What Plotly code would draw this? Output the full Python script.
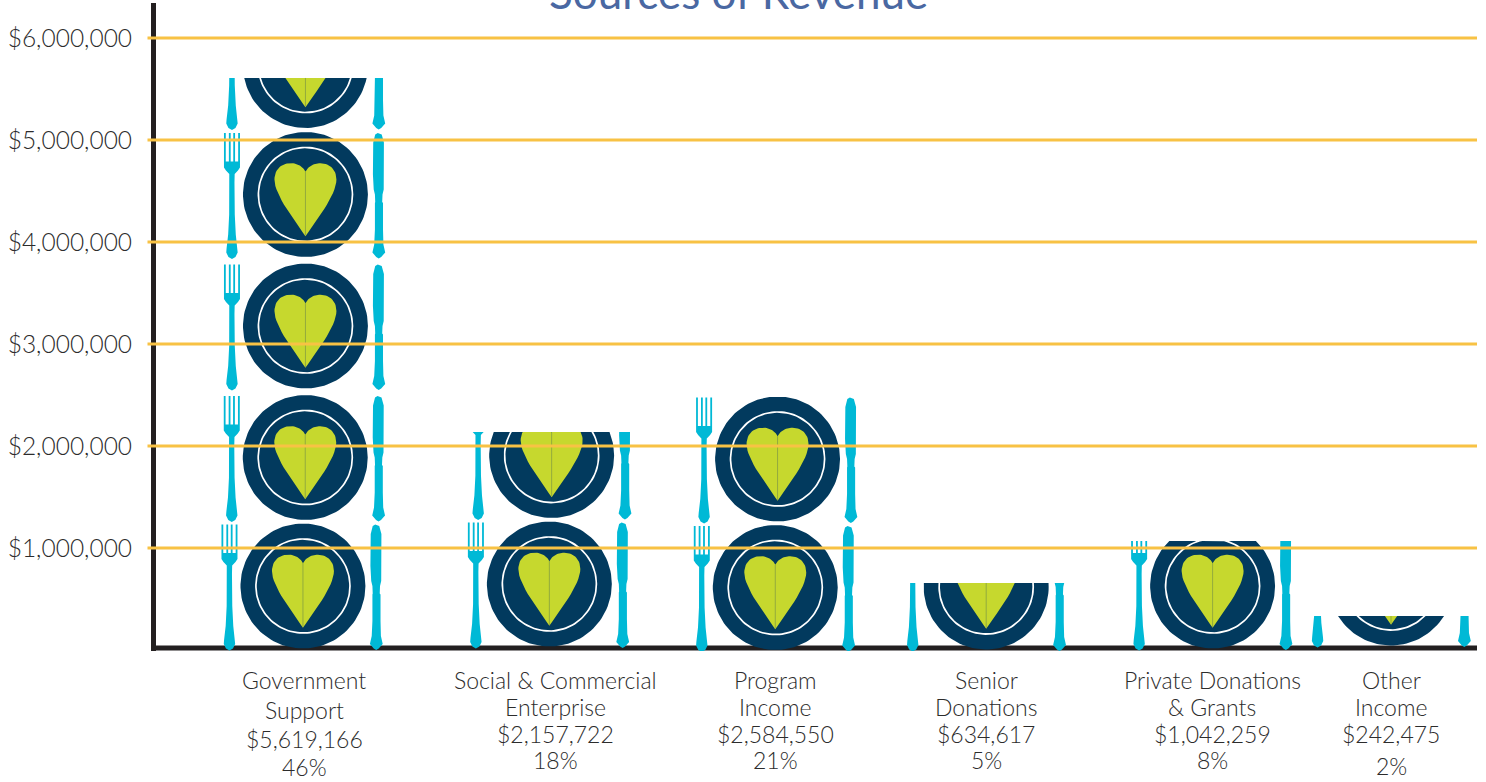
import numpy as np
import plotly.graph_objects as go

# ---------- data ----------
categories = [["Government", "Support"], ["Social & Commercial", "Enterprise"], ["Program", "Income"],
              ["Senior", "Donations"], ["Private Donations", "& Grants"], ["Other", "Income"]]
amounts = [5619166, 2157722, 2584550, 634617, 1042259, 242475]
percents = [46, 18, 21, 5, 8, 2]
# height of each pictogram column as read against the y axis
column_heights = [5608000, 2137000, 2480000, 657000, 1069000, 333000]
y_ticks = [1000000, 2000000, 3000000, 4000000, 5000000, 6000000]
y_tick_labels = ["$1,000,000", "$2,000,000", "$3,000,000", "$4,000,000", "$5,000,000", "$6,000,000"]
title_text = "Sources of Revenue"

# ---------- layout constants (x axis units equal pixels) ----------
W, H = 1486, 782
PLOT_L, PLOT_R, PLOT_T, PLOT_B = 155.5, 1477, 3, 651
PX_PER_UNIT = 102 / 1e6          # pixels per dollar on the y axis
ZERO_PX = 650
BASELINE_PX = 648
column_x = [302.5, 549, 775, 986, 1212.5, 1391]
base_nudge = [0, 2, -1.5, -1, 0, 3]   # px, small hand placement offsets of the icon stacks
level_rise = [0, 128.5, 260, 391.5, 520.5]   # px from first icon centre
level_drift = [0, 2.3, 2.5, 2.5, 2.5]
BASE_RISE = 64                   # px from zero to first icon centre
label_x = [304, 555, 775, 986, 1212, 1391]
label_rows = [[680, 710, 739, 767], [680, 707, 734, 760], [680, 707, 734, 760],
              [680, 707, 734, 760], [680, 707, 734, 760], [680, 707, 734, 766]]

NAVY, LIME, CYAN, YELLOW, INK, TEXT = "#023a5e", "#c6d82e", "#00b9d6", "#f8c244", "#231f20", "#2c2c2c"
FONT = "Lato"
LABEL_SIZE = 23
TICK_SIZE = 24.5


def clip_below(poly, top):
    """Sutherland-Hodgman clip of a polygon to y <= top."""
    out = []
    n = len(poly)
    for i in range(n):
        a, b = poly[i], poly[(i + 1) % n]
        ain, bin_ = a[1] <= top, b[1] <= top
        if ain:
            out.append(a)
        if ain != bin_:
            t = (top - a[1]) / (b[1] - a[1])
            out.append((a[0] + t * (b[0] - a[0]), top))
    return out


def bez(p0, p1, p2, p3, n=16):
    t = np.linspace(0, 1, n)[:, None]
    p0, p1, p2, p3 = map(np.array, (p0, p1, p2, p3))
    return ((1 - t) ** 3 * p0 + 3 * (1 - t) ** 2 * t * p1 + 3 * (1 - t) * t ** 2 * p2 + t ** 3 * p3).tolist()


def circle(r, n=120, rev=False):
    a = np.linspace(0, 2 * np.pi, n, endpoint=True)
    if rev:
        a = a[::-1]
    return [(r * np.cos(t), r * np.sin(t)) for t in a]


heart_right = (bez((0, 22.7), (2.5, 28), (8, 31.3), (15, 31.3)) +
               bez((15, 31.3), (24, 31.3), (31, 25), (31, 15))[1:] +
               bez((31, 15), (31, 0), (13, -23), (0, -41.7))[1:])
heart = heart_right + [(-x, y) for x, y in heart_right[::-1]][1:]
ring = circle(47.9) + circle(46.2, rev=True)

tine_xs = [(-8.0, -6.2), (-3.1, -1.3), (1.3, 3.1), (6.2, 8.0)]
tines = [[(a, 30), (a, 61.5), (b, 61.5), (b, 30)] for a, b in tine_xs]
fork_side = [(8, 33), (8, 27), (6, 24), (2.7, 20.5), (2.5, 12), (2.8, -20), (3.8, -40),
             (5.4, -54), (5.7, -58), (3.5, -62.5), (0, -64.5)]
fork_head = fork_side + [(-x, y) for x, y in fork_side[::-1]][1:]
knife = [(-1, 61.5), (-3.5, 60), (-5.5, 52), (-5.8, 20), (-5, 5), (-3.8, 0), (-3.5, -7.5), (-3.8, -8.5),
         (-3.8, -35), (-4.5, -50), (-6.3, -58), (-2.5, -62.5), (0, -64), (2.5, -62.5), (6.5, -58),
         (4.7, -50), (4.3, -35), (4.3, -8.5), (3.5, -7.5), (3.8, 0), (5, 5), (5.2, 52), (3, 60)]
PLATE_R = 62.5
FORK_DX, KNIFE_DX = -73.5, 73.3
VEIN = [(0, -41), (0, 23)]


def px_to_val(dpx):
    return dpx / PX_PER_UNIT


layers = {k: ([], []) for k in ("plate", "ring", "heart", "vein", "cut")}


def add(layer, poly, cx, cy_val, top):
    pts = [(x + cx, cy_val + px_to_val(y)) for x, y in poly]
    pts = clip_below(pts, top)
    if len(pts) < 3:
        return
    xs, ys = layers[layer]
    xs.extend([p[0] for p in pts] + [pts[0][0], None])
    ys.extend([p[1] for p in pts] + [pts[0][1], None])


def add_vein(cx, cy_val, top):
    y0 = cy_val + px_to_val(VEIN[0][1])
    y1 = min(cy_val + px_to_val(VEIN[1][1]), top)
    if y0 < y1:
        layers["vein"][0].extend([cx, cx, None])
        layers["vein"][1].extend([y0, y1, None])


for col, top in enumerate(column_heights):
    for lvl, rise in enumerate(level_rise):
        cx = column_x[col] + level_drift[lvl]
        cy_val = px_to_val(BASE_RISE + base_nudge[col] + rise)
        if cy_val - px_to_val(65) >= top:
            break
        add("plate", circle(PLATE_R), cx, cy_val, top)
        add("ring", ring, cx, cy_val, top)
        add("heart", heart, cx, cy_val, top)
        add_vein(cx, cy_val, top)
        for t in tines:
            add("cut", [(x + FORK_DX, y) for x, y in t], cx, cy_val, top)
        add("cut", [(x + FORK_DX, y) for x, y in fork_head], cx, cy_val, top)
        add("cut", [(x + KNIFE_DX, y) for x, y in knife], cx, cy_val, top)

fig = go.Figure()
for name, color in (("plate", NAVY), ("ring", "#ffffff"), ("heart", LIME), ("cut", CYAN)):
    fig.add_trace(go.Scatter(x=layers[name][0], y=layers[name][1], mode="lines", fill="toself",
                             fillcolor=color, line=dict(width=0, color=color), hoverinfo="skip",
                             showlegend=False))
fig.add_trace(go.Scatter(x=layers["vein"][0], y=layers["vein"][1], mode="lines",
                         line=dict(width=1, color="#93ab3d"), hoverinfo="skip", showlegend=False))

annotations = []
plot_h = PLOT_B - PLOT_T
for i, cat in enumerate(categories):
    rows = cat + [f"${amounts[i]:,}", f"{percents[i]}%"]
    for text, py in zip(rows, label_rows[i]):
        annotations.append(dict(x=label_x[i], xref="x", y=(PLOT_B - py) / plot_h, yref="paper",
                                text=text, showarrow=False, xanchor="center", yanchor="middle",
                                font=dict(family=FONT, size=LABEL_SIZE, color=TEXT, weight=300)))
annotations.append(dict(x=738.5, xref="x", y=(PLOT_B - 20) / plot_h, yref="paper", text=title_text,
                        showarrow=False, xanchor="center", yanchor="bottom",
                        font=dict(family=FONT, size=44, color="#4a68a2", weight=400)))

grid_left = (147 - PLOT_L) / (PLOT_R - PLOT_L)
shapes = [dict(type="line", xref="paper", yref="y", layer="below",
               x0=(150.5 - PLOT_L) / (PLOT_R - PLOT_L), x1=1,
               y0=(ZERO_PX - BASELINE_PX) / PX_PER_UNIT, y1=(ZERO_PX - BASELINE_PX) / PX_PER_UNIT,
               line=dict(color=INK, width=5.2))]
shapes += [dict(type="line", xref="paper", yref="y", layer="above",
                x0=grid_left, x1=1, y0=v, y1=v,
                line=dict(color=YELLOW, width=2.8)) for v in y_ticks]

fig.update_layout(
    width=W, height=H, autosize=False,
    margin=dict(l=PLOT_L, r=W - PLOT_R, t=PLOT_T, b=H - PLOT_B, pad=0),
    paper_bgcolor="white", plot_bgcolor="white", showlegend=False,
    annotations=annotations, shapes=shapes,
    xaxis=dict(range=[PLOT_L, PLOT_R], showgrid=False, zeroline=False, showticklabels=False,
               ticks="", showline=False),
    yaxis=dict(range=[(ZERO_PX - PLOT_B) / PX_PER_UNIT, (ZERO_PX - PLOT_T) / PX_PER_UNIT],
               tickvals=y_ticks, ticktext=y_tick_labels, showgrid=False, zeroline=False,
               ticks="outside", ticklen=14, tickcolor="rgba(0,0,0,0)",
               tickfont=dict(family=FONT, size=TICK_SIZE, color=TEXT, weight=300),
               showline=True, linecolor=INK, linewidth=5, layer="below traces"),
)

fig.write_html("out.html", config=dict(displayModeBar=False),
               post_script="document.body.style.margin='0';document.body.style.overflow='hidden';")
